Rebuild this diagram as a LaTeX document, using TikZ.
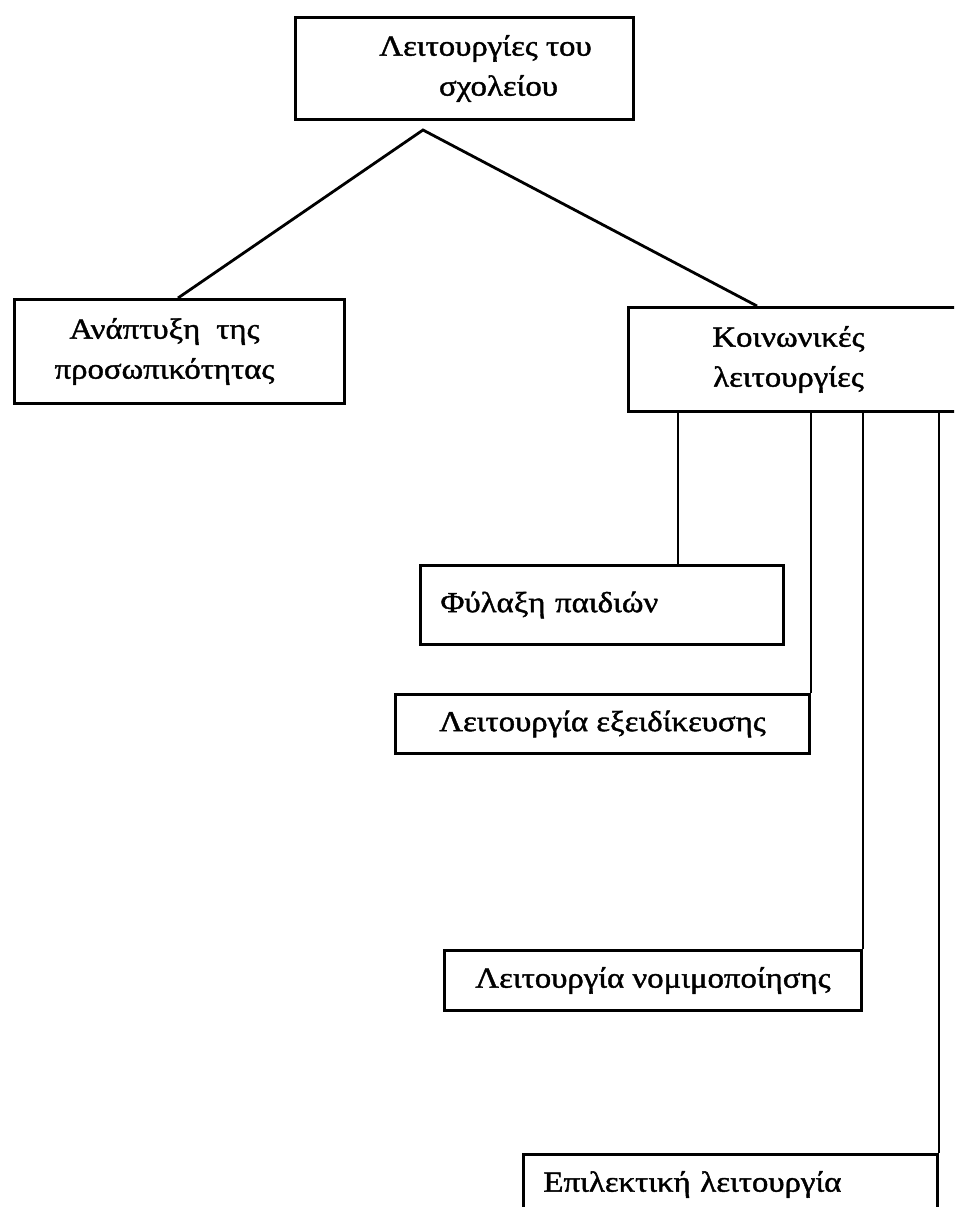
\documentclass[tikz,border=0pt]{standalone}
\usepackage{fontspec}
\setmainfont{Liberation Serif}
\newfontfamily\boxfam{Liberation Serif}[FakeStretch=1.13, FakeBold=1.4]
\usetikzlibrary{calc}
\newcommand{\boxfont}{\boxfam\fontsize{29pt}{40pt}\selectfont}
\tikzset{
  box/.style={draw, line width=3pt, rectangle, inner sep=0pt, font=\boxfont, align=center, anchor=north west},
  leftbox/.style={box, align=left, inner xsep=20pt},
  link/.style={line width=2.8pt, line join=miter}
}
\begin{document}
\begin{tikzpicture}[x=1pt,y=-1pt]
\useasboundingbox (0,0) rectangle (954,1207);
\clip (0,0) rectangle (954,1207);
\fill[white] (0,0) rectangle (954,1207);

\node[box, minimum width=338pt, minimum height=102pt] (top) at (294,16)
  {\hspace*{42pt}Λειτουργίες του\\ \hspace*{68pt}σχολείου};
\node[box, minimum width=330pt, minimum height=104pt] (left) at (13,298)
  {Ανάπτυξη\hspace{0.55em}της\hspace*{30pt}\\ προσωπικότητας\hspace*{30pt}};
\node[box, minimum width=336pt, minimum height=104pt] (soc) at (627,306)
  {Κοινωνικές\hspace*{16pt}\\ λειτουργίες\hspace*{16pt}};
\node[leftbox, text width=323pt, minimum height=79pt] (fyl) at (419,564)
  {Φύλαξη παιδιών};
\node[box, minimum width=414pt, minimum height=59pt] (exe) at (394,693)
  {Λειτουργία εξειδίκευσης};
\node[box, minimum width=417pt, minimum height=60pt] (nom) at (443,949)
  {Λειτουργία νομιμοποίησης};
\node[leftbox, text width=374pt, minimum height=60pt] (epi) at (522,1153)
  {Επιλεκτική λειτουργία};

\coordinate (apex) at ($(top.south west)+(129,9)$);
\draw[link] ($(left.north west)+(165,0)$) -- (apex) -- ($(soc.north west)+(130,0)$);

\draw[link] ($(soc.south west)+(51,0)$) -- ($(fyl.north west)+(259,0)$);
\draw[link] (exe.north east |- soc.south) -- (exe.north east);
\draw[link] (nom.north east |- soc.south) -- (nom.north east);
\draw[link] (epi.north east |- soc.south) -- (epi.north east);
\end{tikzpicture}
\end{document}
